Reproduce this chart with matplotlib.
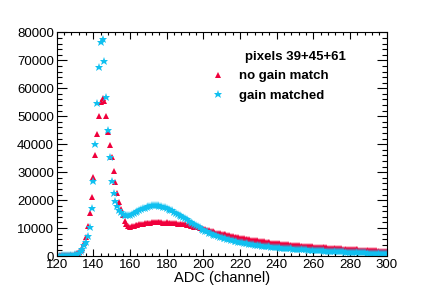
import numpy as np
import matplotlib
matplotlib.use("Agg")
import matplotlib.pyplot as plt
from matplotlib.ticker import MultipleLocator

plt.rcParams['font.family'] = ['Liberation Sans', 'DejaVu Sans']

channels = list(range(120, 301))

no_gain_match = [
    150, 180, 200, 220, 250, 280, 300, 350, 400, 500,
    600, 900, 1400, 2000, 3000, 4800, 6800, 10800, 15500, 21000,
    28300, 36200, 43800, 50000, 55000, 56500, 55500, 50000, 44500, 39800,
    35500, 30500, 26500, 22500, 19500, 16800, 14500, 12500, 11300, 10700,
    10500, 10600, 10800, 11000, 11200, 11300, 11500, 11600, 11700, 11800,
    11800, 11900, 12000, 12000, 12000, 12100, 12000, 12000, 11900, 11900,
    12000, 11950, 11900, 11850, 11800, 11700, 11600, 11500, 11400, 11350,
    11300, 11150, 11000, 10850, 10700, 10500, 10350, 10200, 10000, 9900,
    9800, 9600, 9400, 9200, 9000, 8800, 8600, 8400, 8200, 8100,
    8000, 7850, 7700, 7550, 7400, 7250, 7100, 6950, 6800, 6700,
    6600, 6480, 6360, 6240, 6120, 6000, 5880, 5760, 5640, 5550,
    5500, 5400, 5300, 5200, 5100, 5000, 4900, 4800, 4700, 4650,
    4600, 4520, 4440, 4360, 4280, 4200, 4120, 4040, 3960, 3930,
    3900, 3850, 3800, 3750, 3700, 3650, 3600, 3550, 3500, 3450,
    3400, 3350, 3300, 3250, 3200, 3150, 3100, 3050, 3000, 2950,
    2900, 2860, 2820, 2780, 2740, 2700, 2660, 2620, 2580, 2540,
    2500, 2460, 2420, 2380, 2340, 2300, 2260, 2220, 2180, 2140,
    2100, 2070, 2040, 2010, 1980, 1950, 1920, 1890, 1860, 1830,
    1800,
]

gain_matched = [
    120, 150, 170, 200, 220, 250, 280, 320, 380, 450,
    550, 800, 1200, 1800, 2600, 3800, 5000, 7000, 10500, 17000,
    26800, 40000, 54700, 67700, 76600, 77800, 69800, 57000, 45000, 35500,
    27000, 22500, 19800, 17800, 16500, 15700, 15200, 14800, 14500, 14500,
    14700, 15000, 15300, 15700, 16000, 16400, 16700, 17000, 17300, 17600,
    17800, 18000, 18100, 18200, 18200, 18100, 18000, 17800, 17600, 17400,
    17200, 16900, 16600, 16300, 15900, 15500, 15200, 14800, 14400, 14000,
    13600, 13150, 12700, 12300, 11900, 11450, 11000, 10600, 10200, 9800,
    9400, 9100, 8800, 8400, 8100, 7800, 7600, 7350, 7100, 6900,
    6700, 6500, 6300, 6150, 5950, 5800, 5650, 5450, 5300, 5150,
    5000, 4880, 4760, 4640, 4520, 4400, 4280, 4160, 4040, 3970,
    3900, 3820, 3740, 3660, 3580, 3500, 3420, 3340, 3260, 3180,
    3100, 3050, 3000, 2950, 2900, 2850, 2800, 2750, 2700, 2650,
    2600, 2560, 2520, 2480, 2440, 2400, 2360, 2320, 2280, 2240,
    2200, 2160, 2120, 2080, 2040, 2000, 1960, 1920, 1880, 1840,
    1800, 1770, 1740, 1710, 1680, 1650, 1620, 1590, 1560, 1530,
    1500, 1470, 1440, 1410, 1380, 1350, 1320, 1290, 1260, 1230,
    1200, 1180, 1160, 1140, 1120, 1100, 1080, 1060, 1040, 1020,
    1000,
]

legend_title = "pixels 39+45+61"
series_labels = ["no gain match", "gain matched"]
x_label = "ADC (channel)"

red = '#f0003c'
cyan = '#10c0f0'

fig = plt.figure(figsize=(4.36, 2.97), dpi=100)
ax = fig.add_axes([0.130, 0.138, 0.757, 0.753])

ax.plot(channels, no_gain_match, linestyle='none', marker='^', markersize=5.0,
        color=red, markeredgewidth=0, label=series_labels[0])
ax.plot(channels, gain_matched, linestyle='none', marker='*', markersize=6.3,
        color=cyan, markeredgewidth=0, label=series_labels[1])

ax.set_xlim(120, 300)
ax.set_ylim(0, 80000)
ax.xaxis.set_major_locator(MultipleLocator(20))
ax.xaxis.set_minor_locator(MultipleLocator(4))
ax.yaxis.set_major_locator(MultipleLocator(10000))
ax.yaxis.set_minor_locator(MultipleLocator(2000))

ax.tick_params(which='both', direction='in', top=True, right=True,
               labelsize=9.5, width=0.8, color='black')
ax.tick_params(axis='x', which='major', length=5, pad=2.5)
ax.tick_params(axis='x', which='minor', length=2.5)
ax.tick_params(axis='y', which='major', length=7, pad=2)
ax.tick_params(axis='y', which='minor', length=3.5)
for s in ax.spines.values():
    s.set_linewidth(0.8)

ax.set_xlabel(x_label, fontsize=10.5, labelpad=0)

leg = ax.legend(loc='upper left', bbox_to_anchor=(0.4645, 0.831), frameon=False,
                prop={'weight': 'bold', 'size': 9.5},
                handletextpad=0.99, labelspacing=0.55, handlelength=1.2,
                borderaxespad=0, borderpad=0)
ax.text(0.570, 0.888, legend_title, transform=ax.transAxes, ha='left',
        va='center', fontsize=9.5, fontweight='bold')

fig.savefig('out.png', dpi=100)
